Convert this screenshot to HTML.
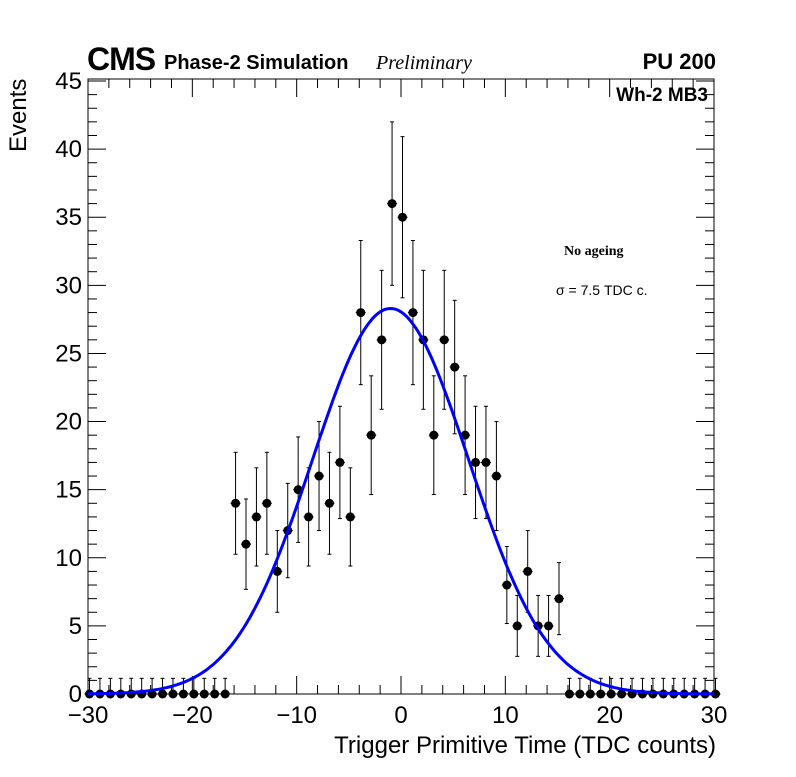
<!DOCTYPE html>
<html><head><meta charset="utf-8"><style>
body{margin:0;background:#fff;}
svg text{font-family:"Liberation Sans",sans-serif;}
</style></head><body>
<svg id="chart" width="796" height="772" viewBox="0 0 796 772" xmlns="http://www.w3.org/2000/svg">
<rect width="796" height="772" fill="#fff"/>
<g id="axes"></g>
<g id="marks"></g>
<text x="87" y="70" font-size="32" font-weight="bold" letter-spacing="-1">CMS</text>
<text x="164" y="69" font-size="20" font-weight="bold">Phase-2 Simulation</text>
<text x="376" y="69" font-size="20" font-style="italic" style="font-family:'Liberation Serif',serif">Preliminary</text>
<text x="716" y="69" font-size="22" font-weight="bold" text-anchor="end">PU 200</text>
<text x="708" y="101" font-size="19" font-weight="bold" text-anchor="end">Wh-2 MB3</text>
<text x="564" y="255" font-size="14" font-weight="bold" style="font-family:'Liberation Serif',serif">No ageing</text>
<text x="556" y="295" font-size="14">σ = 7.5 TDC c.</text>
<text x="716" y="753" font-size="24" text-anchor="end">Trigger Primitive Time (TDC counts)</text>
<text transform="translate(26,152) rotate(-90)" font-size="24" text-anchor="start">Events</text>
</svg>
<script>
const xs = [-30,-29,-28,-27,-26,-25,-24,-23,-22,-21,-20,-19,-18,-17,-16,-15,-14,-13,-12,-11,-10,-9,-8,-7,-6,-5,-4,-3,-2,-1,0,1,2,3,4,5,6,7,8,9,10,11,12,13,14,15,16,17,18,19,20,21,22,23,24,25,26,27,28,29,30];
const counts = [0,0,0,0,0,0,0,0,0,0,0,0,0,0,14,11,13,14,9,12,15,13,16,14,17,13,28,19,26,36,35,28,26,19,26,24,19,17,17,16,8,5,9,5,5,7,0,0,0,0,0,0,0,0,0,0,0,0,0,0,0];
const fitMean = -1.0, fitSigma = 7.5, fitAmp = 28.3;
const xTicks = [-30,-20,-10,0,10,20,30];
const yTicks = [0,5,10,15,20,25,30,35,40,45];

const L=88,R=714,T=79,B=694;
const sx=v=>L+(v+30)/60*(R-L);
const sy=v=>B-v/45*(B-81);
const NS="http://www.w3.org/2000/svg";
function mk(tag,attrs,parent){const e=document.createElementNS(NS,tag);for(const k in attrs)e.setAttribute(k,attrs[k]);parent.appendChild(e);return e;}
const axes=document.getElementById('axes'), marks=document.getElementById('marks');
const frame=mk('rect',{x:L,y:T,width:R-L,height:B-T,fill:'none',stroke:'#000','stroke-width':1},axes);


for(let v=-30;v<=30;v+=2){
  const major=v%10===0, len=major?18:9, x=sx(v);
  mk('line',{x1:x,x2:x,y1:B,y2:B-len,stroke:'#000'},axes);
  mk('line',{x1:x,x2:x,y1:T,y2:T+len,stroke:'#000'},axes);
}
xTicks.forEach(v=>{const t=mk('text',{x:sx(v),y:723,'font-size':24,'text-anchor':'middle'},axes);t.textContent=v<0?'\u2212'+(-v):String(v);

});
for(let v=0;v<=45;v+=1){
  const major=v%5===0, len=major?18:9, y=sy(v);
  mk('line',{x1:L,x2:L+len,y1:y,y2:y,stroke:'#000'},axes);
  mk('line',{x1:R,x2:R-len,y1:y,y2:y,stroke:'#000'},axes);
}
yTicks.forEach(v=>{const t=mk('text',{x:82,y:sy(v)+8,'font-size':24,'text-anchor':'end'},axes);t.textContent=String(v);

});
xs.forEach((xv,i)=>{
  const n=counts[i], x=sx(xv)+1.5, y=sy(n), e=n>0?Math.sqrt(n):1.15;
  const g=mk('g',{},marks);
  
  
  mk('line',{x1:x,x2:x,y1:sy(n+e),y2:sy(Math.max(0,n-e)),stroke:'#000'},g);
  mk('line',{x1:x-2,x2:x+2,y1:sy(n+e),y2:sy(n+e),stroke:'#000'},g);
  if(n>0) mk('line',{x1:x-2,x2:x+2,y1:sy(n-e),y2:sy(n-e),stroke:'#000'},g);
  mk('line',{x1:x-5,x2:x+5,y1:y,y2:y,stroke:'#000'},g);
  mk('circle',{cx:x,cy:y,r:4.5,fill:'#000'},g);
});
let d='';
for(let v=-30;v<=30;v+=0.25){const f=fitAmp*Math.exp(-0.5*((v-fitMean)/fitSigma)**2);d+=(d?'L':'M')+sx(v).toFixed(1)+','+sy(f).toFixed(1);}
const p=mk('path',{d:d,fill:'none',stroke:'#0000ff','stroke-width':3},marks);


</script>
</body></html>
